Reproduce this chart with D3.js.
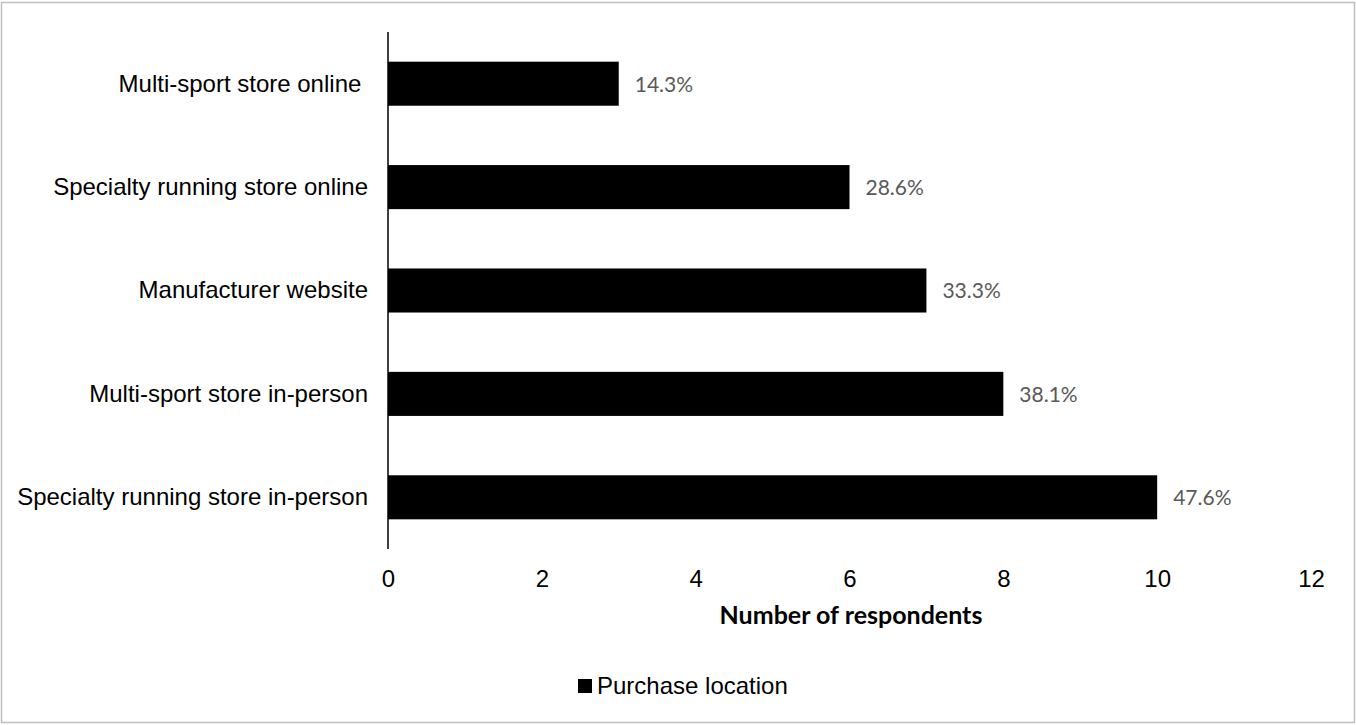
<!DOCTYPE html>
<html>
<head>
<meta charset="utf-8">
<script src="https://cdn.jsdelivr.net/npm/d3@7"></script>
<style>
  html, body { margin: 0; padding: 0; background: #fff; }
  svg { display: block; }
  text { white-space: pre; }
</style>
</head>
<body>
<svg id="chart" width="1356" height="725"></svg>
<script>
// Purchase locations, top to bottom
const categories = [
  "Multi-sport store online ",
  "Specialty running store online",
  "Manufacturer website",
  "Multi-sport store in-person",
  "Specialty running store in-person"
];
const respondents = [3, 6, 7, 8, 10];
const shareLabels = ["14.3%", "28.6%", "33.3%", "38.1%", "47.6%"];
const xTicks = [0, 2, 4, 6, 8, 10, 12];
const seriesName = "Purchase location";
const axisTitle = "Number of respondents";

const svg = d3.select("#chart");
const W = 1356, H = 725;

// chart frame
svg.append("rect")
  .attr("x", 1.5).attr("y", 2.5)
  .attr("width", W - 3).attr("height", H - 5)
  .attr("fill", "#fff").attr("stroke", "#bfbfbf").attr("stroke-width", 1.5);

const plot = { left: 388, right: 1311, top: 32, bottom: 549 };

const x = d3.scaleLinear().domain([0, 12]).range([plot.left, plot.right]);
const y = d3.scaleBand().domain(categories)
  .range([plot.top, plot.bottom])
  .paddingInner(0.574).paddingOuter(0.287);

// bars
svg.append("g").selectAll("rect")
  .data(categories)
  .join("rect")
  .attr("x", x(0))
  .attr("y", d => y(d))
  .attr("width", (d, i) => x(respondents[i]) - x(0))
  .attr("height", y.bandwidth())
  .attr("fill", "#000");

// value labels
svg.append("g").selectAll("text")
  .data(categories)
  .join("text")
  .attr("x", (d, i) => x(respondents[i]) + 16)
  .attr("y", d => y(d) + y.bandwidth() / 2)
  .attr("dy", "0.38em")
  .attr("font-family", "Lato, 'Open Sans', sans-serif")
  .attr("font-size", 21)
  .attr("fill", "#595959")
  .text((d, i) => shareLabels[i]);

// category axis
const yAxis = svg.append("g")
  .attr("transform", `translate(${plot.left},0)`)
  .call(d3.axisLeft(y).tickSize(0).tickPadding(20));
yAxis.select(".domain").remove();
yAxis.append("line")
  .attr("x1", 0).attr("x2", 0)
  .attr("y1", plot.top).attr("y2", plot.bottom)
  .attr("stroke", "#000").attr("stroke-width", 1.5);
yAxis.selectAll("text")
  .attr("font-family", "'Liberation Sans', Arial, sans-serif")
  .attr("font-size", 24)
  .attr("dy", "0.33em")
  .attr("fill", "#000");

// value axis (labels only)
const xAxis = svg.append("g")
  .attr("transform", `translate(0,${plot.bottom})`)
  .call(d3.axisBottom(x).tickValues(xTicks).tickSize(0).tickPadding(21).tickFormat(d3.format("d")));
xAxis.select(".domain").remove();
xAxis.selectAll("text")
  .attr("font-family", "'Liberation Sans', Arial, sans-serif")
  .attr("font-size", 24)
  .attr("fill", "#000");

// axis title
svg.append("text")
  .attr("x", 851)
  .attr("y", 624)
  .attr("text-anchor", "middle")
  .attr("font-family", "Lato, 'Open Sans', sans-serif")
  .attr("font-weight", "bold")
  .attr("font-size", 25)
  .attr("fill", "#000")
  .text(axisTitle);

// legend
const legend = svg.append("g").attr("transform", "translate(578,679)");
legend.append("rect")
  .attr("width", 14).attr("height", 14).attr("fill", "#000");
legend.append("text")
  .attr("x", 19).attr("y", 15)
  .attr("font-family", "'Liberation Sans', Arial, sans-serif")
  .attr("font-size", 24)
  .attr("fill", "#000")
  .text(seriesName);
</script>
</body>
</html>
